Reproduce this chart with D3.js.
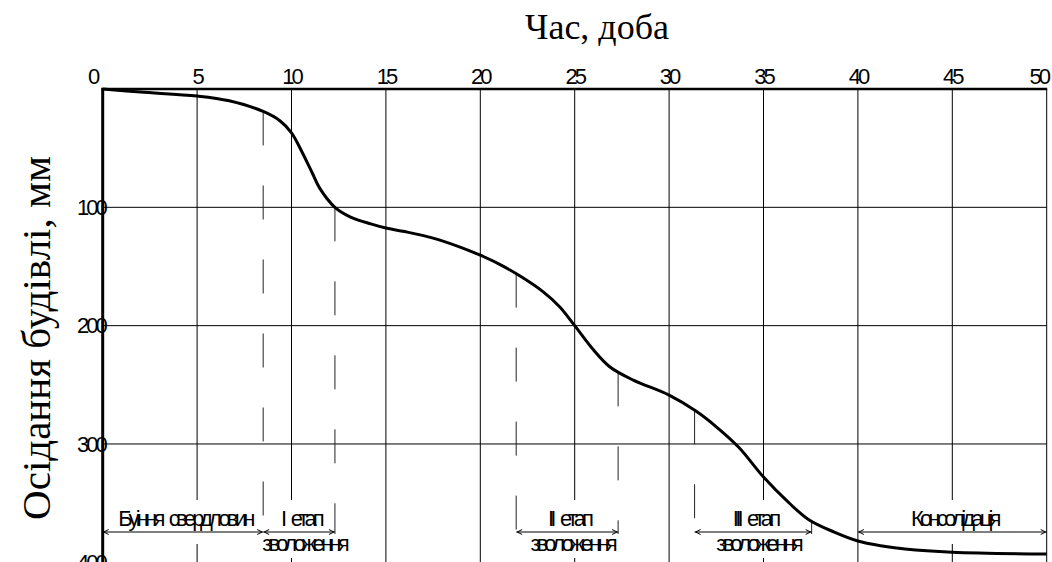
<!DOCTYPE html>
<html>
<head>
<meta charset="utf-8">
<script src="https://cdnjs.cloudflare.com/ajax/libs/d3/7.8.5/d3.min.js"></script>
<style>
    body { margin: 0; background: #fff; }
    svg { display: block; }
</style>
</head>
<body>
<div id="chart"></div>
<script>
// settlement curve
const days = [0, 2, 5, 6.7, 8.5, 9.4, 10, 10.55, 11.1, 11.5, 12.3, 13.1, 14.2, 15, 16, 17.5, 19, 20, 21, 22, 23.3, 24.2, 25, 26, 26.85, 28.1, 30, 31.4, 32.5, 33.7, 35, 36.3, 37.4, 38.75, 40, 41.2, 42.5, 45, 50];
const settlement = [0, 2.6, 6, 10, 19, 27, 37, 53, 71, 84, 100, 108, 114, 117.5, 120.5, 126, 134, 140.5, 148, 157, 171, 184, 200, 220.6, 234.7, 246, 258.7, 272, 285.5, 303, 328, 349, 364, 374.5, 382, 386, 388.8, 391.5, 393];

const xTicks = [0, 5, 10, 15, 20, 25, 30, 35, 40, 45, 50];
const yTicks = [100, 200, 300, 400];
const yGrid = [100, 200, 300];

// stages of work
const stageNames = ["Буіння свердловин", "I етап", "II етап", "III етап", "Консолідація"];
const stageSubs = ["", "зволоження", "зволоження", "зволоження", ""];
const stageFrom = [0, 8.5, 21.9, 31.35, 40];
const stageTo = [8.5, 12.3, 27.3, 37.55, 50];
const boundaries = [8.5, 12.3, 21.9, 27.3, 31.35, 37.55];

const width = 1052, height = 562;
const plotLeft = 102.7, plotTop = 89, plotRight = 1046.7, plotBottom = 562.3;
const arrowY = 532;

const x = d3.scaleLinear().domain([0, 50]).range([plotLeft, plotRight]);
const y = d3.scaleLinear().domain([0, 400]).range([plotTop, plotBottom]);

const $svg = d3.select("#chart")
    .append("svg")
    .attr("width", width)
    .attr("height", height);

const gridG = $svg.append("g");
const maskG = $svg.append("g");
const dashG = $svg.append("g");
const arrowG = $svg.append("g");
const labelG = $svg.append("g");
const curveG = $svg.append("g");
const axisG = $svg.append("g");

//grid
gridG.selectAll(".vgrid")
    .data(xTicks.slice(1))
    .join("line")
    .attr("x1", d => x(d)).attr("x2", d => x(d))
    .attr("y1", y(0)).attr("y2", y(400))
    .attr("stroke", "#000")
    .attr("stroke-width", 1);

gridG.selectAll(".hgrid")
    .data(yGrid)
    .join("line")
    .attr("x1", x(0)).attr("x2", x(50))
    .attr("y1", d => y(d)).attr("y2", d => y(d))
    .attr("stroke", "#000")
    .attr("stroke-width", 1);

//curve
const line = d3.line()
    .x(d => x(d[0]))
    .y(d => y(d[1]))
    .curve(d3.curveCatmullRom.alpha(0.5));

const curve = curveG.append("path")
    .attr("d", line(d3.zip(days, settlement)))
    .attr("fill", "none")
    .attr("stroke", "#000")
    .attr("stroke-width", 3);

// find where the curve passes a given day
const curveNode = curve.node();
const total = curveNode.getTotalLength();
const curveYAt = day => {
    const px = x(day);
    let lo = 0, hi = total;
    for (let i = 0; i < 40; i++) {
        const mid = (lo + hi) / 2;
        if (curveNode.getPointAtLength(mid).x < px) lo = mid; else hi = mid;
    }
    return curveNode.getPointAtLength(lo).y;
};

//stage labels
const labelFont = "'Liberation Sans', Arial, sans-serif";
const styleLabel = sel => sel
    .attr("text-anchor", "middle")
    .attr("font-family", labelFont)
    .attr("font-size", 22)
    .attr("letter-spacing", "-3.8px")
    .attr("word-spacing", "5px");

stageNames.forEach((name, i) => {
    const cx = (x(stageFrom[i]) + x(stageTo[i])) / 2;
    const top = labelG.append("text")
        .attr("x", cx + 2)
        .attr("y", arrowY - 6)
        .call(styleLabel)
        .text(name);
    let box = top.node().getBBox();
    let y0 = box.y, y1 = arrowY + 10, x0 = box.x, x1 = box.x + box.width;
    if (stageSubs[i]) {
        const sub = labelG.append("text")
            .attr("x", cx + 5)
            .attr("y", arrowY + 19)
            .call(styleLabel)
            .text(stageSubs[i]);
        const b = sub.node().getBBox();
        y1 = b.y + b.height;
        x0 = Math.min(x0, b.x);
        x1 = Math.max(x1, b.x + b.width);
    }
    //white frame behind the text (hides the grid)
    maskG.append("rect")
        .attr("x", x0 - 3)
        .attr("y", y0 - 6)
        .attr("width", x1 - x0 + 6)
        .attr("height", y1 - y0 + 8)
        .attr("fill", "#fff");

    //dimension arrow
    const ax0 = x(stageFrom[i]), ax1 = x(stageTo[i]);
    arrowG.append("line")
        .attr("x1", ax0).attr("x2", ax1)
        .attr("y1", arrowY).attr("y2", arrowY)
        .attr("stroke", "#000")
        .attr("stroke-width", 1);
    arrowG.append("path")
        .attr("d", `M${ax0 + 6},${arrowY - 2.5}L${ax0 + 1},${arrowY}L${ax0 + 6},${arrowY + 2.5}` +
                   `M${ax1 - 6},${arrowY - 2.5}L${ax1 - 1},${arrowY}L${ax1 - 6},${arrowY + 2.5}`)
        .attr("fill", "none")
        .attr("stroke", "#000")
        .attr("stroke-width", 1);
});

//dashed stage boundaries
dashG.selectAll("line")
    .data(boundaries)
    .join("line")
    .attr("x1", d => x(d)).attr("x2", d => x(d))
    .attr("y1", d => curveYAt(d))
    .attr("y2", arrowY + 2)
    .attr("stroke", "#222")
    .attr("stroke-width", 1)
    .attr("stroke-dasharray", "34,40");

//axes
axisG.append("line")
    .attr("x1", x(0) - 1.5).attr("x2", x(50) + 0.5)
    .attr("y1", y(0)).attr("y2", y(0))
    .attr("stroke", "#000")
    .attr("stroke-width", 2.5);
axisG.append("line")
    .attr("x1", x(0)).attr("x2", x(0))
    .attr("y1", y(0)).attr("y2", y(400))
    .attr("stroke", "#000")
    .attr("stroke-width", 3);

const tickFont = "'Liberation Sans', Arial, sans-serif";
axisG.selectAll(".xlab")
    .data(xTicks)
    .join("text")
    .attr("x", d => x(d))
    .attr("dx", d => d === 0 ? -10 : d === 50 ? -8 : 0)
    .attr("y", y(0) - 5)
    .attr("text-anchor", "middle")
    .attr("font-family", tickFont)
    .attr("font-size", 22)
    .attr("letter-spacing", "-3px")
    .text(d => d);

axisG.selectAll(".ylab")
    .data(yTicks)
    .join("text")
    .attr("x", x(0) + 2)
    .attr("y", d => y(d))
    .attr("dy", "0.35em")
    .attr("text-anchor", "end")
    .attr("font-family", tickFont)
    .attr("font-size", 22)
    .attr("letter-spacing", "-3px")
    .text(d => d);

//titles
$svg.append("text")
    .attr("x", 597)
    .attr("y", 39)
    .attr("text-anchor", "middle")
    .attr("font-family", "'Liberation Serif', 'Times New Roman', serif")
    .attr("font-size", 36)
    .text("Час, доба");

$svg.append("text")
    .attr("transform", "translate(50,338) rotate(-90)")
    .attr("text-anchor", "middle")
    .attr("font-family", "'Liberation Serif', 'Times New Roman', serif")
    .attr("font-size", 41)
    .text("Осідання будівлі, мм");
</script>
</body>
</html>
